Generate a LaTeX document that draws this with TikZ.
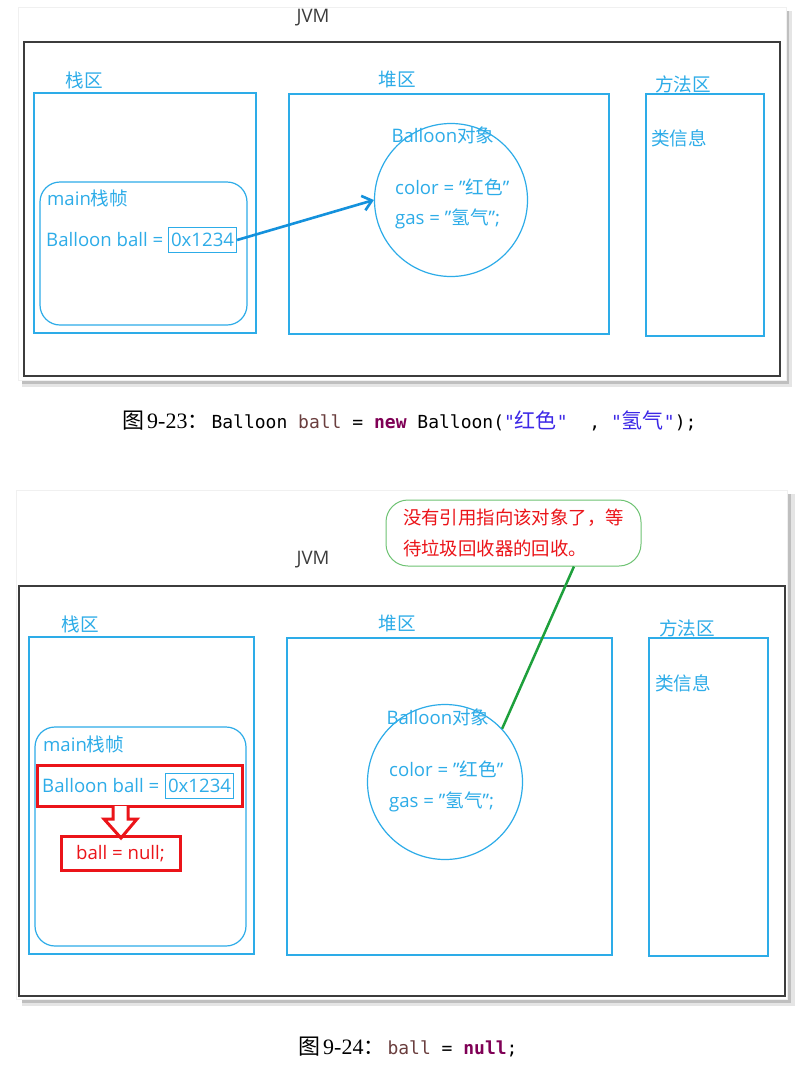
\documentclass[tikz,border=0pt]{standalone}
\usepackage{fontspec}
\setmainfont{Open Sans}
\setmonofont{DejaVu Sans Mono}
\newfontfamily\cjk{Noto Sans CJK SC}
\newfontfamily\capnum{Liberation Serif}
\usetikzlibrary{positioning,arrows.meta}
\definecolor{areablue}{RGB}{45,172,232}
\definecolor{arrowblue}{RGB}{20,145,220}
\definecolor{boxred}{RGB}{235,20,25}
\definecolor{notegreen}{RGB}{110,195,115}
\definecolor{linegreen}{RGB}{30,160,60}
\definecolor{jvmgray}{RGB}{60,60,60}
\definecolor{codebrown}{RGB}{106,62,62}
\definecolor{codepurple}{RGB}{127,0,85}
\definecolor{codeblue}{RGB}{60,40,230}
\newcommand\dg{\fontsize{18.6}{22}\selectfont}
\newcommand\capfig[1]{{\fontsize{22}{24}\selectfont\cjk 图}\,{\fontsize{22}{24}\selectfont\capnum #1}{\fontsize{21}{24}\selectfont\cjk ：}\hspace{3pt}}

\begin{document}
\begin{tikzpicture}[x=1pt,y=-1pt,
    area/.style={draw=areablue,line width=1.2pt},
    lbl/.style={text=areablue,font=\dg,inner sep=0pt},
    addrbox/.style={draw=areablue,line width=1.2pt,text=areablue,font=\dg,inner sep=2.5pt,minimum height=25pt,anchor=west},
    jvmbox/.style={draw=jvmgray,line width=1.5pt},
    redbox/.style={draw=boxred,line width=3pt},
    ptr/.style={-{Straight Barb[length=9pt,width=15pt]},draw=arrowblue,line width=2.6pt},
    caption/.style={anchor=base west,inner sep=0pt,font=\fontsize{18}{22}\selectfont}]
    \useasboundingbox (0,0) rectangle (795,1066);
    % panels with shadow
    \fill[black!10] (22,11) rectangle (792,387);
    \fill[black!25] (22,11) rectangle (789,384);
    \fill[white,draw=black!6] (18,7) rectangle (786,380);
    \fill[black!10] (22,494) rectangle (795,1006);
    \fill[black!25] (22,494) rectangle (791,1003);
    \fill[white,draw=black!6] (16,490) rectangle (787,999);

    % ---- figure 9-23 ----
    \node[font=\dg,text=jvmgray] (jvm1) at (313,18) {JVM};
    \draw[jvmbox] (24,42) rectangle (780,376);
    \node[lbl] (stacklbl1) at (84,80) {\cjk 栈区};
    \draw[area] (34,93) rectangle (256,333);
    \draw[area,rounded corners=20pt] (40,182) rectangle (247,325);
    \node[lbl,anchor=west] (frame1) at (47,198) {main{\cjk 栈帧}};
    \node[lbl,anchor=west] (decl1) at (46,240) {Balloon ball =};
    \node[addrbox] (addr1) at (168,240) {0x1234};
    \node[lbl] (heaplbl1) at (397,79) {\cjk 堆区};
    \draw[area] (289,94) rectangle (609,334);
    \node[area,circle,minimum size=153pt] (obj1) at (451,200) {};
    \node[lbl] (objlbl1) at (443,135) {Balloon{\cjk 对象}};
    \node[lbl,anchor=west] (color1) at (395,187) {color = "{\cjk 红色}"};
    \node[lbl,anchor=west] (gas1) at (395,219) {gas = "{\cjk 氢气}";};
    \node[lbl] (methlbl1) at (683,84) {\cjk 方法区};
    \draw[area] (646,94) rectangle (764,336);
    \node[lbl] (cls1) at (679,138) {\cjk 类信息};
    \draw[ptr] (addr1.east) -- (obj1.west);
    \node[caption] (cap1) at (122,428) {\capfig{9-23}\ttfamily Balloon \textcolor{codebrown}{ball} = \textcolor{codepurple}{\bfseries new} Balloon(\textcolor{codeblue}{"{\fontsize{21}{22}\selectfont\cjk 红色}"}~~,~\textcolor{codeblue}{"{\fontsize{21}{22}\selectfont\cjk 氢气}"});};

    % ---- figure 9-24 ----
    \node[font=\dg,text=jvmgray] (jvm2) at (313,560) {JVM};
    \draw[jvmbox] (19,586) rectangle (785,996);
    \node[lbl] (stacklbl2) at (80,624) {\cjk 栈区};
    \draw[area] (29,637) rectangle (254,954);
    \draw[area,rounded corners=20pt] (35,727) rectangle (246,946);
    \node[lbl,anchor=west] (frame2) at (43,744) {main{\cjk 栈帧}};
    \draw[redbox] (37,765) rectangle (242,806);
    \node[lbl,anchor=west] (decl2) at (42,786) {Balloon ball =};
    \node[addrbox] (addr2) at (165,786) {0x1234};
    \draw[redbox,fill=white] (113,806) -- (113,819) -- (104,819) -- (121,838) -- (137,819) -- (128,819) -- (128,806);
    \node[redbox,text=boxred,font=\dg,minimum width=119pt,minimum height=34pt] (null2) at (120.5,853.5) {ball = null;};
    \node[lbl] (heaplbl2) at (397,623) {\cjk 堆区};
    \draw[area] (287,638) rectangle (612,955);
    \node[area,circle,minimum size=155pt] (obj2) at (445,782) {};
    \node[lbl] (objlbl2) at (438,717) {Balloon{\cjk 对象}};
    \node[lbl,anchor=west] (color2) at (389,769) {color = "{\cjk 红色}"};
    \node[lbl,anchor=west] (gas2) at (389,802) {gas = "{\cjk 氢气}";};
    \node[lbl] (methlbl2) at (687,628) {\cjk 方法区};
    \draw[area] (649,638) rectangle (768,956);
    \node[lbl] (cls2) at (683,683) {\cjk 类信息};
    \node[draw=notegreen,line width=1pt,rounded corners=22pt,fill=white,minimum width=255pt,minimum height=66pt,
          text=boxred,font=\cjk\fontsize{18.4}{31}\selectfont,align=left,inner sep=0pt] (note) at (513.5,533)
          {没有引用指向该对象了，等\\待垃圾回收器的回收。};
    \draw[linegreen,line width=2.5pt] (note.-29) -- (obj2.43);
    \node[caption] (cap2) at (298,1054) {\capfig{9-24}\ttfamily \textcolor{codebrown}{ball} = \textcolor{codepurple}{\bfseries null};};
\end{tikzpicture}
\end{document}
